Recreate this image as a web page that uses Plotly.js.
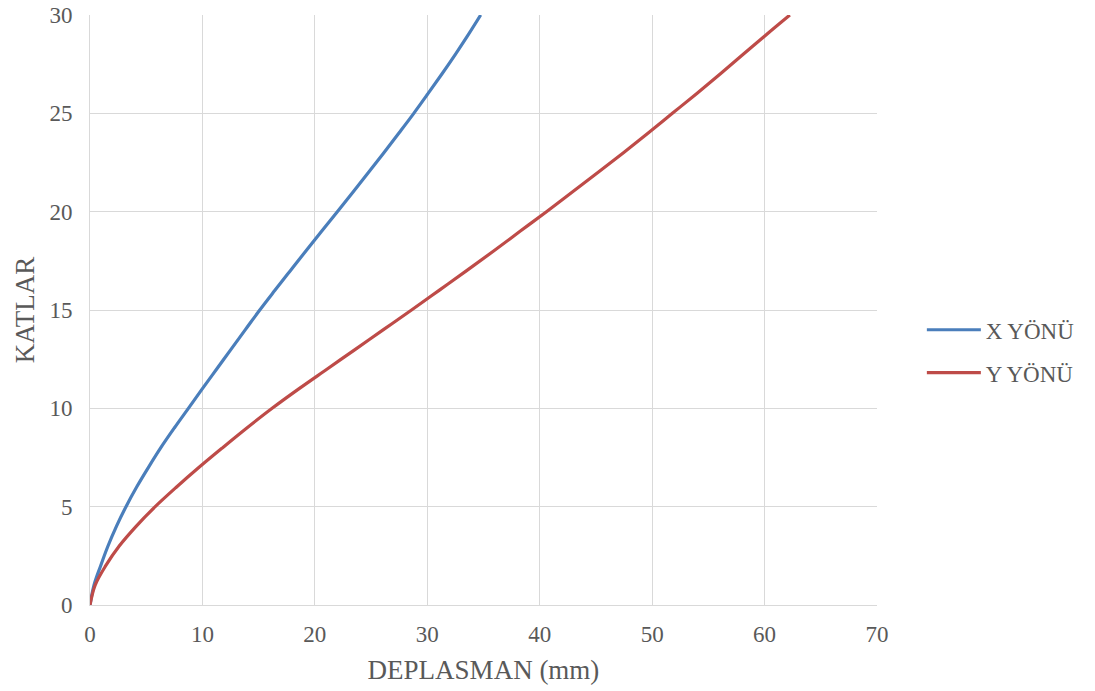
<!DOCTYPE html>
<html><head><meta charset="utf-8">
<script src="https://cdn.plot.ly/plotly-3.0.1.min.js"></script>
<style>html,body{margin:0;padding:0;background:#fff;}#chart{width:1095px;height:691px;}</style>
</head><body><div id="chart"></div>
<script>
const floors = [0,1,2,3,4,5,6,7,8,9,10,11,12,13,14,15,16,17,18,19,20,21,22,23,24,25,26,27,28,29,30];
const xDisp = [0,0.35,0.95,1.6,2.35,3.2,4.15,5.2,6.3,7.5,8.75,10.0,11.27,12.54,13.82,15.1,16.45,17.82,19.2,20.6,22.0,23.4,24.78,26.14,27.48,28.8,30.06,31.3,32.5,33.65,34.75];
const yDisp = [0,0.45,1.4,2.6,4.1,5.8,7.7,9.7,11.8,13.95,16.2,18.6,21.1,23.6,26.1,28.6,31.05,33.5,35.9,38.25,40.6,42.9,45.2,47.45,49.65,51.8,53.95,56.05,58.1,60.15,62.25];
const xTicks = [0,10,20,30,40,50,60,70];
const yTicks = [0,5,10,15,20,25,30];
const names = ["X YÖNÜ","Y YÖNÜ"];
const fam = "Liberation Serif";
const gray = "#595959";
const data = [
  {x:xDisp, y:floors, name:names[0], legendgroup:"a", mode:"lines", line:{color:"#4a7ebb", width:3.2, shape:"spline", smoothing:1}},
  {x:yDisp, y:floors, name:names[1], legendgroup:"b", mode:"lines", line:{color:"#be4b48", width:3.2, shape:"spline", smoothing:1}}
];
const layout = {
  width:1095, height:691,
  margin:{l:90, r:218, t:15, b:86},
  paper_bgcolor:"#fff", plot_bgcolor:"#fff",
  font:{family:fam, color:gray, size:23},
  showlegend:true,
  legend:{x:1.057, xanchor:"left", y:0.43, yanchor:"middle", traceorder:"grouped", tracegroupgap:10,
          font:{family:fam, color:gray, size:23}, itemwidth:54, bgcolor:"rgba(0,0,0,0)", borderwidth:0},
  xaxis:{range:[0,70], tickvals:xTicks, ticktext:xTicks.map(String), showgrid:true, gridcolor:"#d9d9d9", gridwidth:1,
         zeroline:false, showline:true, linecolor:"#d9d9d9", linewidth:1, ticks:"", ticklabelstandoff:8,
         tickfont:{family:fam, color:gray, size:23},
         title:{text:"DEPLASMAN (mm)", font:{family:fam, color:gray, size:27}, standoff:14}},
  yaxis:{range:[0,30], tickvals:yTicks, ticktext:yTicks.map(String), showgrid:true, gridcolor:"#d9d9d9", gridwidth:1,
         zeroline:false, showline:true, linecolor:"#d9d9d9", linewidth:1, ticks:"", ticklabelstandoff:12,
         tickfont:{family:fam, color:gray, size:23},
         title:{text:"KATLAR", font:{family:fam, color:gray, size:27}, standoff:6}}
};
Plotly.newPlot("chart", data, layout, {displayModeBar:false, staticPlot:true});
</script></body></html>
